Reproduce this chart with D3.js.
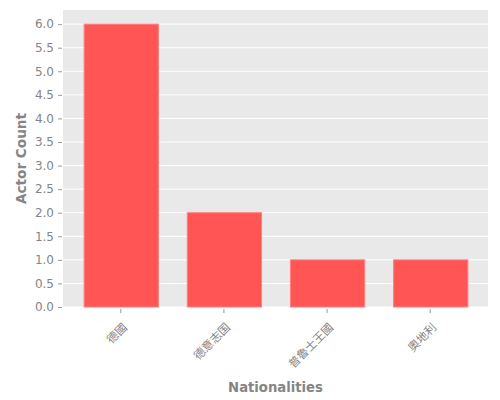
<!DOCTYPE html>
<html>
<head>
    <meta charset="utf-8">
    <title>Actor Count by Nationality</title>
    <script src="https://d3js.org/d3.v7.min.js"></script>
    <style>
        body { margin: 0; background: #fff; }
        text { font-family: "DejaVu Sans", sans-serif; }
    </style>
</head>
<body>
    <script type="text/javascript">
        // data
        let nationalities = ["德國", "德意志国", "普魯士王國", "奧地利"];
        let actorCounts = [6, 2, 1, 1];
        let yTicks = [0, 0.5, 1, 1.5, 2, 2.5, 3, 3.5, 4, 4.5, 5, 5.5, 6];

        let width = 500, height = 400;
        let plot = { left: 63, right: 488, top: 10, bottom: 307 };

        let svg = d3.select("body").append("svg")
            .attr("width", width)
            .attr("height", height);

        let x = d3.scaleBand()
            .domain(nationalities)
            .range([plot.left, plot.right])
            .paddingInner(0.28)
            .paddingOuter(0.2);

        let y = d3.scaleLinear()
            .domain([0, 6.3])
            .range([plot.bottom, plot.top]);

        // panel background
        svg.append("rect")
            .attr("x", plot.left)
            .attr("y", plot.top)
            .attr("width", plot.right - plot.left)
            .attr("height", plot.bottom - plot.top)
            .attr("fill", "#e9e9e9");

        // horizontal grid
        svg.append("g").selectAll("line")
            .data(yTicks)
            .join("line")
            .attr("x1", plot.left)
            .attr("x2", plot.right)
            .attr("y1", d => y(d))
            .attr("y2", d => y(d))
            .attr("stroke", "#ffffff")
            .attr("stroke-width", 1);

        // bars
        svg.append("g").selectAll("rect")
            .data(nationalities)
            .join("rect")
            .attr("x", d => x(d) + 0.5)
            .attr("y", (d, i) => y(actorCounts[i]))
            .attr("width", x.bandwidth())
            .attr("height", (d, i) => y(0) - y(actorCounts[i]))
            .attr("fill", "#ff5555")
            .attr("stroke", "#ff8080")
            .attr("stroke-width", 1);

        // y axis
        let yAxis = svg.append("g")
            .attr("transform", "translate(" + (plot.left - 1) + ",0)")
            .call(d3.axisLeft(y).tickValues(yTicks).tickFormat(d3.format(".1f")).tickSize(4).tickPadding(4));
        yAxis.select(".domain").remove();
        yAxis.selectAll(".tick line").attr("stroke", "#999");
        yAxis.selectAll(".tick text")
            .attr("fill", "#858585")
            .style("font-size", "12px")
            .style("font-family", "DejaVu Sans");

        // x axis
        let xAxis = svg.append("g")
            .attr("transform", "translate(0," + (plot.bottom + 2) + ")")
            .call(d3.axisBottom(x).tickSize(4).tickSizeOuter(0));
        xAxis.select(".domain").remove();
        xAxis.selectAll(".tick line").attr("stroke", "#999");
        xAxis.selectAll(".tick text")
            .attr("fill", "#858585")
            .attr("text-anchor", "end")
            .attr("dy", null)
            .attr("y", null)
            .attr("transform", "translate(7,19) rotate(-45)")
            .style("font-size", "11.5px")
            .style("font-family", "'Noto Sans CJK TC', 'Noto Sans CJK SC', sans-serif");

        // axis titles
        svg.append("text")
            .attr("x", (plot.left + plot.right) / 2)
            .attr("y", 392)
            .attr("text-anchor", "middle")
            .attr("fill", "#858585")
            .style("font-size", "13.2px")
            .style("font-weight", "bold")
            .text("Nationalities");

        svg.append("text")
            .attr("transform", "translate(25.5," + ((plot.top + plot.bottom) / 2) + ") rotate(-90)")
            .attr("text-anchor", "middle")
            .attr("fill", "#858585")
            .style("font-size", "13.6px")
            .style("font-weight", "bold")
            .text("Actor Count");
    </script>
</body>
</html>
